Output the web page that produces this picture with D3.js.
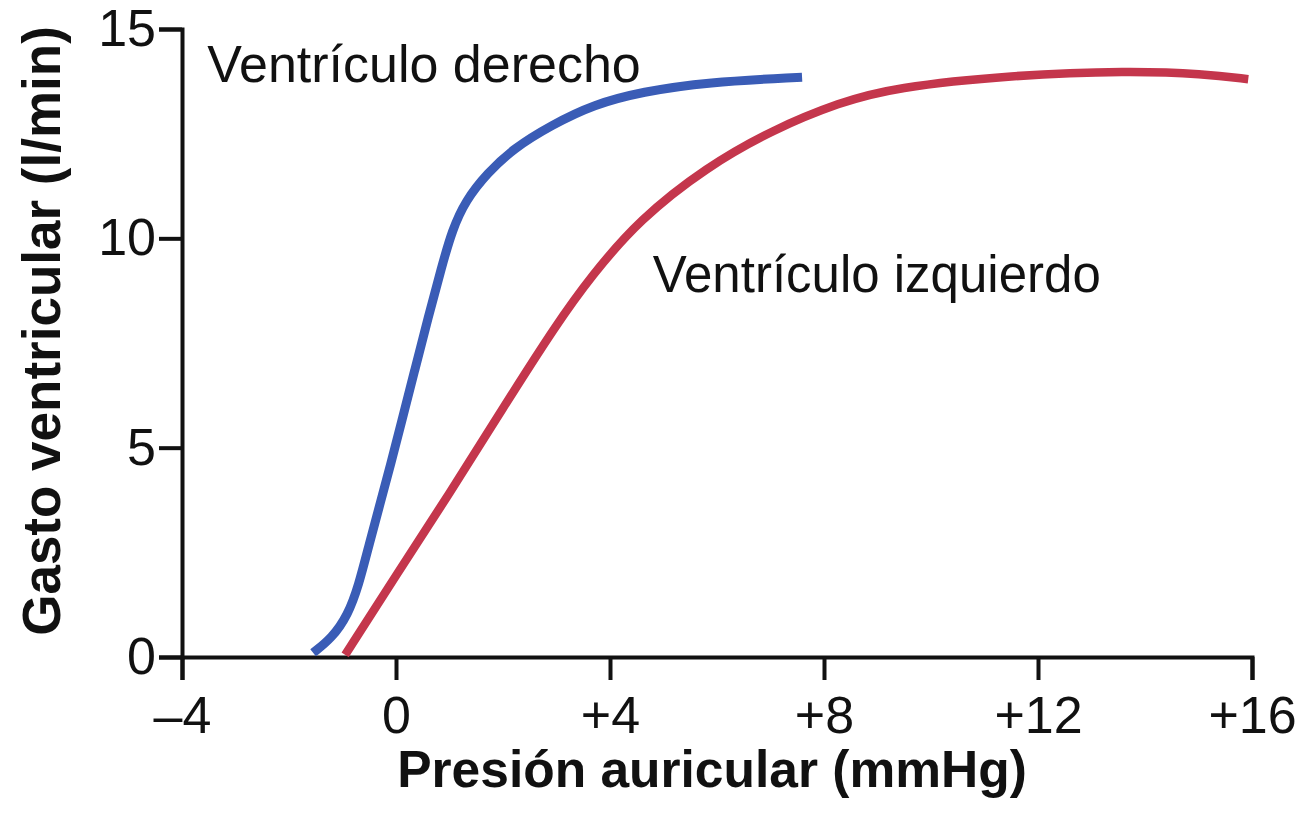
<!DOCTYPE html>
<html>
<head>
<meta charset="utf-8">
<script src="https://cdn.jsdelivr.net/npm/d3@7"></script>
<style>
  html, body { margin: 0; padding: 0; background: #fff; }
  svg { display: block; font-family: "Liberation Sans", Arial, Helvetica, sans-serif; }
</style>
</head>
<body>
<div id="chart"></div>
<script>
// values
const xTicks = [-4, 0, 4, 8, 12, 16];
const yTicks = [0, 5, 10, 15];

// right ventricle: atrial pressure (mmHg) vs output (l/min)
const rightX = [-1.55, -1.2, -0.9, -0.7, -0.5, -0.3, -0.1, 0.1, 0.35, 0.6, 0.85, 1.05, 1.3, 1.7, 2.2, 2.9, 3.7, 4.6, 5.8, 7.59];
const rightY = [0.1, 0.45, 1.0, 1.7, 2.7, 3.65, 4.6, 5.6, 6.85, 8.1, 9.3, 10.2, 10.9, 11.55, 12.15, 12.7, 13.2, 13.5, 13.73, 13.85];

// left ventricle
const leftX = [-0.95, 0.0, 1.0, 2.0, 3.0, 3.65, 4.55, 5.8, 7.05, 8.3, 9.3, 11.5, 13.7, 15.1, 15.93];
const leftY = [0.05, 1.95, 3.9, 5.95, 7.95, 9.1, 10.45, 11.7, 12.6, 13.25, 13.6, 13.9, 14.0, 13.93, 13.8];

const W = 1309, H = 824;
const margin = { top: 29, right: 57, bottom: 167, left: 182 };
const width = W - margin.left - margin.right;
const height = H - margin.top - margin.bottom;

const svg = d3.select('#chart').append('svg')
  .attr('width', W)
  .attr('height', H);

const g = svg.append('g')
  .attr('transform', `translate(${margin.left},${margin.top})`);

const x = d3.scaleLinear().domain([-4, 16]).range([0, width]);
const y = d3.scaleLinear().domain([0, 15]).range([height, 0]);

const fmtX = d => d < 0 ? '\u2013' + Math.abs(d) : (d > 0 ? '+' + d : '0');

// axes
const xAxis = g.append('g')
  .attr('transform', `translate(0,${height})`)
  .call(d3.axisBottom(x).tickValues(xTicks).tickFormat(fmtX)
    .tickSize(23).tickSizeOuter(23).tickPadding(16));

const yAxis = g.append('g')
  .call(d3.axisLeft(y).tickValues(yTicks)
    .tickSize(23).tickSizeOuter(23).tickPadding(3));

[xAxis, yAxis].forEach(a => {
  a.select('.domain').attr('stroke', '#111').attr('stroke-width', 4)
    .attr('stroke-linejoin', 'miter');
  a.selectAll('.tick line').attr('stroke', '#111').attr('stroke-width', 4);
  a.selectAll('.tick text')
    .attr('fill', '#111')
    .style('font-size', '52px')
    .style('font-family', '"Liberation Sans", Arial, sans-serif');
});

// curves
const line = d3.line()
  .x(d => x(d[0]))
  .y(d => y(d[1]))
  .curve(d3.curveBasis);

g.append('path')
  .datum(leftX.map((v, i) => [v, leftY[i]]))
  .attr('d', line)
  .attr('fill', 'none')
  .attr('stroke', '#c4364c')
  .attr('stroke-width', 8.5);

g.append('path')
  .datum(rightX.map((v, i) => [v, rightY[i]]))
  .attr('d', line)
  .attr('fill', 'none')
  .attr('stroke', '#3a5cb6')
  .attr('stroke-width', 9);

// curve labels
g.append('text')
  .attr('x', x(-3.53))
  .attr('y', y(13.73))
  .text('Ventrículo derecho')
  .style('font-size', '52px')
  .attr('fill', '#111');

g.append('text')
  .attr('x', x(4.8))
  .attr('y', y(8.72))
  .text('Ventrículo izquierdo')
  .style('font-size', '51px')
  .attr('fill', '#111');

// axis titles
svg.append('text')
  .attr('x', 712)
  .attr('y', 787)
  .attr('text-anchor', 'middle')
  .style('font-size', '51.5px')
  .style('font-weight', 'bold')
  .attr('fill', '#111')
  .text('Presión auricular (mmHg)');

svg.append('text')
  .attr('transform', 'translate(60,331) rotate(-90)')
  .attr('text-anchor', 'middle')
  .style('font-size', '53px')
  .style('font-weight', 'bold')
  .attr('fill', '#111')
  .text('Gasto ventricular (l/min)');
</script>
</body>
</html>
